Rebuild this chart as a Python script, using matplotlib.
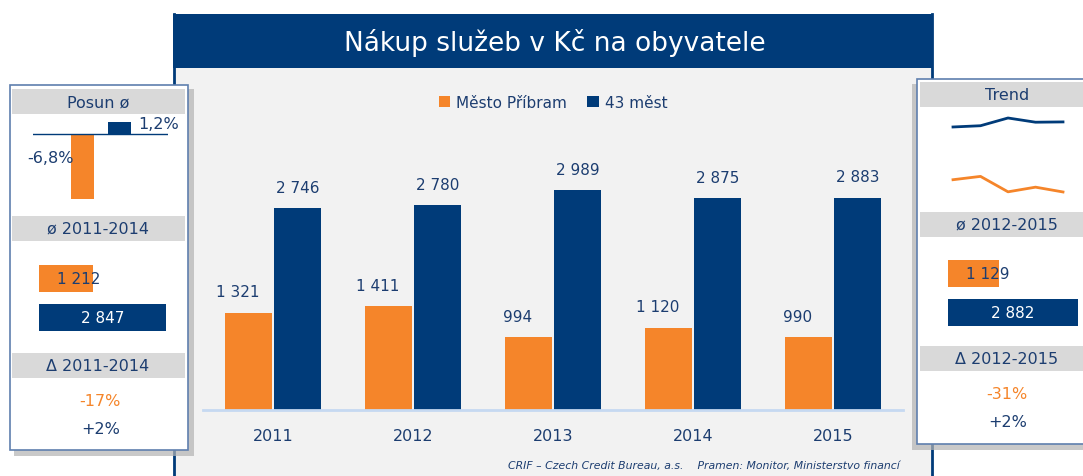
import numpy as np
import matplotlib
matplotlib.use('Agg')
import matplotlib.pyplot as plt
from matplotlib.patches import Rectangle

# data
roky = ['2011', '2012', '2013', '2014', '2015']
pribram = [1321, 1411, 994, 1120, 990]
mest43 = [2746, 2780, 2989, 2875, 2883]
serie = ['Město Příbram', '43 měst']

posun = [-6.8, 1.2]
posun_txt = ['-6,8%', '1,2%']
prumer_l = [1212, 2847]
prumer_p = [1129, 2882]
delta_l = ['-17%', '+2%']
delta_p = ['-31%', '+2%']

ORANGE = '#f5852a'
NAVY = '#003b79'
TEXT = '#1c3d70'
GRAY = '#d9d9d9'
BG = '#f2f2f2'
BORDER = '#5f7fae'

W, H = 1083, 477
fig = plt.figure(figsize=(W / 100, H / 100), dpi=100)
plt.rcParams['font.family'] = ['DejaVu Sans']


def px_ax(x0, y0, x1, y1):
    a = fig.add_axes([x0 / W, 1 - y1 / H, (x1 - x0) / W, (y1 - y0) / H])
    a.patch.set_visible(False)
    return a


def fmt(v):
    return f'{v:,}'.replace(',', ' ')


# pozadi - vse v pixelech
bg = fig.add_axes([0, 0, 1, 1])
bg.set_xlim(0, W)
bg.set_ylim(H, 0)
bg.axis('off')

# hlavni panel
bg.add_patch(Rectangle((173, 68), 760, 420, facecolor=BG, edgecolor='none', zorder=1))
bg.add_patch(Rectangle((173, 15), 760, 54, facecolor=NAVY, edgecolor='none', zorder=2))
bg.plot([174, 174], [15, 477], color=NAVY, lw=2, zorder=2)
bg.plot([932, 932], [15, 477], color=NAVY, lw=2, zorder=2)
bg.text(555, 43, 'Nákup služeb v Kč na obyvatele', color='white', fontsize=19,
        ha='center', va='center', zorder=3)
bg.text(900, 466, 'CRIF – Czech Credit Bureau, a.s.    Pramen: Monitor, Ministerstvo financí',
        color=TEXT, fontsize=7.8, style='italic', ha='right', va='center', zorder=3)

# levy panel
bg.add_patch(Rectangle((14, 90), 180, 367, facecolor='#b3b3b3', edgecolor='none', alpha=0.7, zorder=4))
bg.add_patch(Rectangle((10, 86), 178, 365, facecolor='white', edgecolor=BORDER, lw=1.2, zorder=5))
for y0, txt in [(90, 'Posun ø'), (217, 'ø 2011-2014'), (354, 'Δ 2011-2014')]:
    bg.add_patch(Rectangle((12, y0), 173, 25, facecolor=GRAY, edgecolor='none', zorder=6))
    bg.text(98, y0 + 12.5, txt, color=TEXT, fontsize=11.5, ha='center', va='center', zorder=7)
bg.text(100, 402, delta_l[0], color=ORANGE, fontsize=11.5, ha='center', va='center', zorder=7)
bg.text(101, 430, delta_l[1], color=TEXT, fontsize=11.5, ha='center', va='center', zorder=7)

# pravy panel
bg.add_patch(Rectangle((912, 85), 180, 366, facecolor='#b3b3b3', edgecolor='none', alpha=0.7, zorder=4))
bg.add_patch(Rectangle((917, 80), 180, 365, facecolor='white', edgecolor=BORDER, lw=1.2, zorder=5))
for y0, txt in [(83, 'Trend'), (213, 'ø 2012-2015'), (347, 'Δ 2012-2015')]:
    bg.add_patch(Rectangle((920, y0), 170, 25, facecolor=GRAY, edgecolor='none', zorder=6))
    bg.text(1007, y0 + 12.5, txt, color=TEXT, fontsize=11.5, ha='center', va='center', zorder=7)
bg.text(1007, 395, delta_p[0], color=ORANGE, fontsize=11.5, ha='center', va='center', zorder=7)
bg.text(1008, 423, delta_p[1], color=TEXT, fontsize=11.5, ha='center', va='center', zorder=7)

# hlavni graf
ax = px_ax(203, 140, 903, 411)
x = np.arange(len(roky))
ax.bar(x - 0.175, pribram, 0.33, color=ORANGE, label=serie[0])
ax.bar(x + 0.175, mest43, 0.33, color=NAVY, label=serie[1])
for xi, v in zip(x, pribram):
    ax.annotate(fmt(v), (xi - 0.175, v), xytext=(-8, 15), textcoords='offset points',
                ha='center', va='center', color=TEXT, fontsize=11)
for xi, v in zip(x, mest43):
    ax.annotate(fmt(v), (xi + 0.175, v), xytext=(0, 15), textcoords='offset points',
                ha='center', va='center', color=TEXT, fontsize=11)
ax.set_xlim(-0.5, 4.5)
ax.set_ylim(0, 3682)
for s in ['top', 'left', 'right']:
    ax.spines[s].set_visible(False)
ax.spines['bottom'].set_color('#c6d9f1')
ax.spines['bottom'].set_linewidth(2)
ax.set_yticks([])
ax.set_xticks(x, roky)
ax.tick_params(axis='x', length=0, pad=13, labelsize=11.5, labelcolor=TEXT)
fig.legend(loc='center', bbox_to_anchor=(553 / W, 1 - 103 / H), ncol=2, frameon=False,
           fontsize=11, handlelength=0.75, handleheight=0.75, handletextpad=0.4,
           columnspacing=1.3, labelcolor=TEXT)

# posun
ap = px_ax(33, 110, 168, 210)
ap.bar([0, 1], posun, 0.62, color=[ORANGE, NAVY])
ap.axhline(0, color=NAVY, lw=1)
ap.set_xlim(-1.34, 2.31)
ap.set_ylim(-7.8, 2.6)
ap.axis('off')
ap.text(-0.25, -2.4, posun_txt[0], ha='right', va='center', color=TEXT, fontsize=11.5)
ap.text(1.5, 1.1, posun_txt[1], ha='left', va='center', color=TEXT, fontsize=11.5)


# prumery
def prumer(x0, y0, vals, scale):
    a = px_ax(x0, y0, x0 + 140, y0 + 78)
    a.barh([0, 1], vals, 0.69, color=[ORANGE, NAVY])
    a.set_xlim(0, 140 / scale)
    a.set_ylim(1.5, -0.5)
    a.axis('off')
    a.annotate(fmt(vals[0]), (0, 0), xytext=(13, 0), textcoords='offset points',
               ha='left', va='center', color=TEXT, fontsize=11)
    a.text(vals[1] / 2, 1, fmt(vals[1]), ha='center', va='center', color='white', fontsize=11)


prumer(39, 260, prumer_l, 127 / 2847)
prumer(948, 255, prumer_p, 130 / 2882)

# trend
at = px_ax(953, 110, 1063, 200)
at.plot(range(5), mest43, color=NAVY, lw=2, clip_on=False)
at.plot(range(5), pribram, color=ORANGE, lw=2, clip_on=False)
at.set_xlim(0, 4)
at.set_ylim(800, 3232)
at.axis('off')

fig.savefig('out.png', dpi=100)
